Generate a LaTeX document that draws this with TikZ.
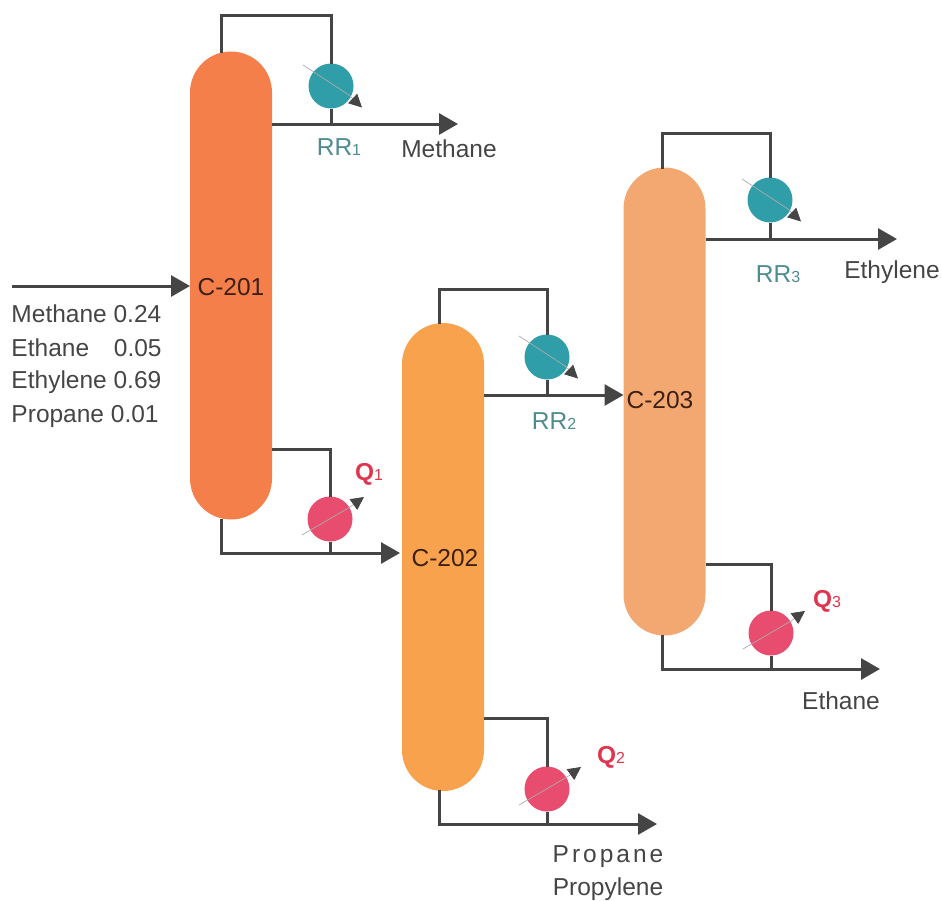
\documentclass[tikz,border=0pt]{standalone}
\usepackage{fontspec}
\setmainfont{Liberation Sans}
\usetikzlibrary{arrows.meta}
\definecolor{colAfill}{HTML}{F47F4A}
\definecolor{colBfill}{HTML}{F9A24E}
\definecolor{colCfill}{HTML}{F3A771}
\definecolor{condfill}{HTML}{2F9EA9}
\definecolor{rebfill}{HTML}{E84C6E}
\definecolor{pipe}{HTML}{454545}
\definecolor{condtext}{HTML}{4F8C90}
\definecolor{rebtext}{HTML}{E0354F}
\tikzstyle{every node}=[font=\fontsize{24.5}{28}\selectfont,text=pipe]
\tikzstyle{every path}=[line width=3pt,color=pipe,line join=miter]
\tikzstyle{column}=[rounded corners=41pt,minimum width=82pt,minimum height=468pt,inner sep=0pt,outer sep=0pt]
\tikzstyle{exch}=[circle,minimum size=45pt,inner sep=0pt,outer sep=0pt]
\tikzstyle{cond}=[exch,fill=condfill]
\tikzstyle{reb}=[exch,fill=rebfill]
\tikzstyle{flow}=[-{Triangle[length=19pt,width=21pt]}]
\tikzstyle{utility}=[line width=0.7pt,draw=pipe!45,-{Triangle[length=13pt,width=13pt,color=pipe]}]
\tikzstyle{condlabel}=[text=condtext]
\tikzstyle{reblabel}=[text=rebtext]
\tikzstyle{collabel}=[text=black!75!colAfill]
\newcommand\idx[1]{{\fontsize{16}{16}\selectfont #1}}
\newcommand\spaced{\kern3pt}

\begin{document}
\begin{tikzpicture}[x=1pt,y=-1pt]
\useasboundingbox (0,0) rectangle (942,900);
% Columns
	\node [column,fill=colAfill] (colA) at (231,285.5) {};
	\node [column,fill=colBfill] (colB) at (443,557) {};
	\node [column,fill=colCfill] (colC) at (664.5,401.5) {};
	\node [collabel] (nameA) at (231,287) {C-201};
	\node [collabel] (nameB) at (445,558) {C-202};
	\node [collabel] (nameC) at (660,400) {C-203};
% Condensers and reboilers
	\node [cond] (condA) at (331,86) {};
	\node [cond] (condB) at (547,357) {};
	\node [cond] (condC) at (770,200) {};
	\node [reb] (rebA) at (330,519) {};
	\node [reb] (rebB) at (547,789) {};
	\node [reb] (rebC) at (771,633) {};
	\draw [utility] (condA) ++(-28,-21) -- ++(46,30) -- ++(13,12.5);
	\draw [utility] (condB) ++(-28,-21) -- ++(46,30) -- ++(13,12.5);
	\draw [utility] (condC) ++(-28,-21) -- ++(46,30) -- ++(13,12.5);
	\draw [utility] (rebA) ++(-28,16) -- ++(48,-28) -- ++(14,-10);
	\draw [utility] (rebB) ++(-28,16) -- ++(48,-28) -- ++(14,-10);
	\draw [utility] (rebC) ++(-28,16) -- ++(48,-28) -- ++(14,-10);
% Column 1
	\coordinate (feedA) at (12,286); %% feedA is the start of the feed line
	\coordinate (ohA) at (colA.east |- 0,124); %% ohA is the overhead draw-off
	\coordinate (sideA) at (colA.east |- 0,449); %% sideA is the reboiler draw-off
	\coordinate (endA) at (458,124);
	\coordinate (botA) at (400,553);
	\draw [flow] (feedA) -- (colA.west |- feedA);
	\draw ([xshift=-10pt,yshift=-1pt]colA.north) -- ++(0,-37) -| (condA.north);
	\draw (condA.south) -- (condA.south |- ohA);
	\draw [flow] (ohA) -- (endA);
	\draw (sideA) -| (rebA.north);
	\draw (rebA.south) -- (rebA.south |- botA);
	\draw [flow] ([xshift=-10pt,yshift=1pt]colA.south) |- (botA);
% Column 2
	\coordinate (ohB) at (colB.east |- 0,395);
	\coordinate (sideB) at (colB.east |- 0,718);
	\coordinate (botB) at (657,824);
	\draw ([xshift=-4pt,yshift=-1pt]colB.north) -- ++(0,-35) -| (condB.north);
	\draw (condB.south) -- (condB.south |- ohB);
	\draw [flow] (ohB) -- (colC.west |- ohB);
	\draw (sideB) -| (rebB.north);
	\draw (rebB.south) -- (rebB.south |- botB);
	\draw [flow] ([xshift=-4pt,yshift=1pt]colB.south) |- (botB);
% Column 3
	\coordinate (ohC) at (colC.east |- 0,239);
	\coordinate (sideC) at (colC.east |- 0,564);
	\coordinate (endC) at (897,239);
	\coordinate (botC) at (880,669);
	\draw ([xshift=-2.5pt,yshift=-1pt]colC.north) -- ++(0,-35) -| (condC.north);
	\draw (condC.south) -- (condC.south |- ohC);
	\draw [flow] (ohC) -- (endC);
	\draw (sideC) -| (rebC.north);
	\draw (rebC.south) -- (rebC.south |- botC);
	\draw [flow] ([xshift=-2.5pt,yshift=1pt]colC.south) |- (botC);
% Labels
	\node [condlabel] (rrA) at (339,147) {RR\idx{1}};
	\node [condlabel] (rrB) at (554,421) {RR\idx{2}};
	\node [condlabel] (rrC) at (778,274) {RR\idx{3}};
	\node [reblabel] (qA) at (369,474) {\textbf{Q}\idx{1}};
	\node [reblabel] (qB) at (611,757) {\textbf{Q}\idx{2}};
	\node [reblabel] (qC) at (827,601) {\textbf{Q}\idx{3}};
	\node (prodA) at (449,149) {Methane};
	\node (prodB) at (892,272) {Ethylene};
	\node (prodC) at (841,701) {Ethane};
	\node (prodD) at (608,857) {P\spaced r\spaced o\spaced p\spaced a\spaced n\spaced e};
	\node (prodE) at (608,889) {Propylene};
	\node [anchor=west,inner sep=0pt] (feedM) at (10,314) {Methane 0.24};
	\node [anchor=west,inner sep=0pt] (feedE) at (10,348) {Ethane\hspace{18pt} 0.05};
	\node [anchor=west,inner sep=0pt] (feedY) at (10,382) {Ethylene 0.69};
	\node [anchor=west,inner sep=0pt] (feedP) at (10,416) {Propane 0.01};
\end{tikzpicture}
\end{document}
